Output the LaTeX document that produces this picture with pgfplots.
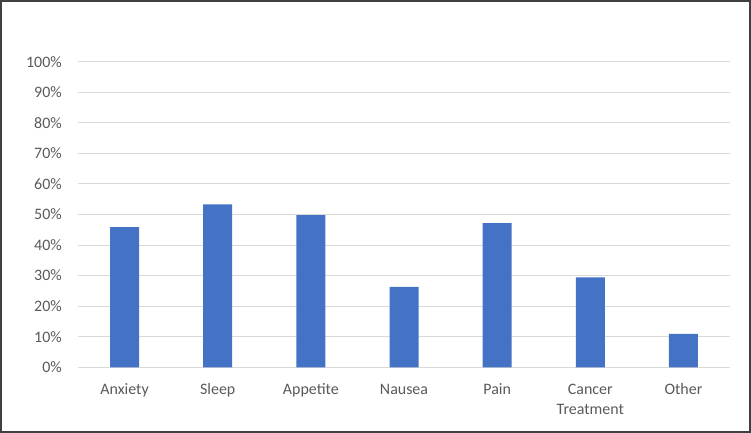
\documentclass[border=0pt]{standalone}
\usepackage{pgfplots}
\pgfplotsset{compat=1.18}
\usepackage{fontspec}
\setmainfont{Carlito}
\definecolor{barblue}{HTML}{4472C4}
\definecolor{txtgray}{HTML}{595959}
\definecolor{gridgray}{HTML}{D9D9D9}
\definecolor{framegray}{HTML}{404040}
\newcommand\xs{\rule{0pt}{12bp}}
\begin{document}
\begin{tikzpicture}
\useasboundingbox (0,0) rectangle (751bp,433bp);
\draw[framegray, line width=1.6bp] (0.8bp,0.8bp) rectangle (750.2bp,432.2bp);
\begin{axis}[
  at={(78bp,65.7bp)}, anchor=south west,
  scale only axis, width=652bp, height=305.6bp,
  xmin=-0.5, xmax=6.5, ymin=0, ymax=100,
  ytick={0,10,...,100},
  xtick={0,...,6},
  xticklabels={\xs Anxiety, \xs Sleep, \xs Appetite, \xs Nausea, \xs Pain, {\xs Cancer\\Treatment}, \xs Other},
  axis line style={draw=none},
  major tick length=0pt,
  ymajorgrids, grid style={gridgray, line width=1bp},
  /pgf/number format/assume math mode=true,
  yticklabel={\pgfmathprintnumber{\tick}\%},
  tick label style={font=\fontsize{16}{20.5}\selectfont, text=txtgray, inner sep=0pt},
  y tick label style={anchor=east, xshift=-16bp},
  x tick label style={align=center, anchor=north, yshift=-15bp},
  ybar, bar width=29bp,
  clip=false,
]
\addplot[fill=barblue, draw=none] coordinates {
  (0,45.9) (1,53.3) (2,49.8) (3,26.3) (4,47.2) (5,29.4) (6,10.9)
};
\end{axis}
\end{tikzpicture}
\end{document}
